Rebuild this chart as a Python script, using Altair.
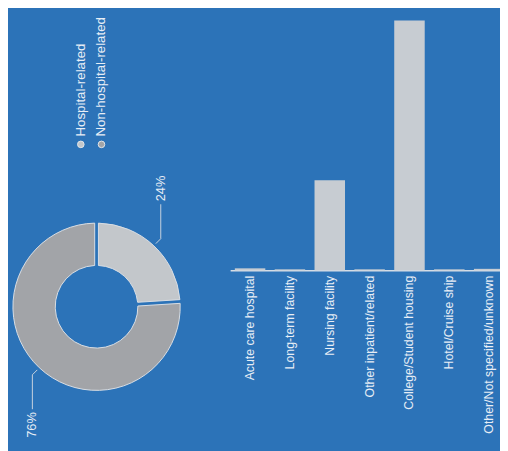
import math
import altair as alt
import pandas as pd

# ---- data ----
categories = [
    "Acute care hospital",
    "Long-term facility",
    "Nursing facility",
    "Other inpatient/related",
    "College/Student housing",
    "Hotel/Cruise ship",
    "Other/Not specified/unknown",
]
bar_values = [0.8, 0.4, 36, 0.4, 100, 0.4, 0.6]

slice_labels = ["Hospital-related", "Non-hospital-related"]
slice_pct = [24, 76]
slice_colors = ["#c3c7cb", "#a2a4a8"]

BG = "#2c73b8"
TXT = "#e8eef6"

# ---- layout (chart pixel space) ----
W, H_PLOT, BOTTOM_PAD = 500, 263, 180
CX, CY, R_OUT, R_IN = 90, 300, 85, 42

bar_df = pd.DataFrame({"category": categories, "value": bar_values})
pie_df = pd.DataFrame({"label": slice_labels, "pct": slice_pct, "idx": range(len(slice_pct))})

# leader lines and percent labels derived from slice data
total = sum(slice_pct)
lead_rows, txt_rows = [], []
cum = 0
for lab, p in zip(slice_labels, slice_pct):
    mid = (cum + p / 2) / total * 2 * math.pi
    cum += p
    s, c = math.sin(mid), math.cos(mid)
    x0, y0 = CX + (R_OUT + 3) * s, CY - (R_OUT + 3) * c
    sx = 1 if s >= 0 else -1
    sy = -1 if c >= 0 else 1
    x1, y1 = x0 + 5 * sx, y0 + 5 * sy
    x2, y2 = x1, y1 + 35 * sy
    for k, (xx, yy) in enumerate([(x0, y0), (x1, y1), (x2, y2)]):
        lead_rows.append({"label": lab, "step": k, "lx": xx, "ly": yy})
    txt_rows.append({"label": lab, "tx": x2, "ty": y2 + 3 * sy,
                     "txt": f"{p}%", "up": sy < 0})
lead_df = pd.DataFrame(lead_rows)
txt_df = pd.DataFrame(txt_rows)

leg_df = pd.DataFrame({"label": slice_labels,
                       "lx": [74, 95], "ly": [135, 135], "ty": [127, 127]})

FONT = "Liberation Sans"

pie = alt.Chart(pie_df).mark_arc(
    innerRadius=R_IN, outerRadius=R_OUT, padAngle=0.04,
    stroke="#d9dee4", strokeWidth=1
).encode(
    theta=alt.Theta("pct:Q", stack=True),
    order=alt.Order("idx:Q"),
    color=alt.Color("label:N", scale=alt.Scale(domain=slice_labels, range=slice_colors), legend=None),
    x=alt.value(CX), y=alt.value(CY),
)

bars = alt.Chart(bar_df).mark_bar(color="#c7ccd2").encode(
    x=alt.X("category:N", sort=categories, title=None,
            scale=alt.Scale(range=[225.75, 509.25], paddingInner=0.235, paddingOuter=0.1175),
            axis=alt.Axis(labelAngle=270, ticks=False, domainColor="#d5dde6", domainWidth=1.5,
                          labelColor=TXT, labelFontSize=12.5, labelPadding=5, labelLimit=300,
                          labelFont=FONT)),
    y=alt.Y("value:Q", scale=alt.Scale(domain=[0, 100], range=[H_PLOT, 9]), axis=None),
)

leader = alt.Chart(lead_df).mark_line(color="#c9d3de", strokeWidth=1).encode(
    x=alt.X("lx:Q", scale=None, axis=None),
    y=alt.Y("ly:Q", scale=None, axis=None),
    detail="label:N",
    order="step:Q",
)

pct_up = alt.Chart(txt_df[txt_df["up"]]).mark_text(
    angle=270, align="left", baseline="middle", color=TXT, fontSize=13, font=FONT
).encode(
    x=alt.X("tx:Q", scale=None, axis=None), y=alt.Y("ty:Q", scale=None, axis=None), text="txt:N"
)
pct_down = alt.Chart(txt_df[~txt_df["up"]]).mark_text(
    angle=270, align="right", baseline="middle", color=TXT, fontSize=13, font=FONT
).encode(
    x=alt.X("tx:Q", scale=None, axis=None), y=alt.Y("ty:Q", scale=None, axis=None), text="txt:N"
)

leg_pts = alt.Chart(leg_df).mark_point(filled=True, size=45, shape="circle", opacity=1,
                                       stroke="#e0e5ea", strokeWidth=1).encode(
    x=alt.X("lx:Q", scale=None, axis=None),
    y=alt.Y("ly:Q", scale=None, axis=None),
    color=alt.Color("label:N", scale=alt.Scale(domain=slice_labels, range=slice_colors), legend=None),
)
leg_txt = alt.Chart(leg_df).mark_text(
    angle=270, align="left", baseline="middle", color=TXT, fontSize=13.5, font=FONT
).encode(
    x=alt.X("lx:Q", scale=None, axis=None),
    y=alt.Y("ty:Q", scale=None, axis=None),
    text="label:N",
)

chart = alt.layer(pie, bars, leader, pct_up, pct_down, leg_pts, leg_txt).resolve_scale(
    x="independent", y="independent", color="independent"
).properties(
    width=W, height=H_PLOT,
    padding={"left": 0, "top": 0, "right": 0, "bottom": BOTTOM_PAD},
    autosize=alt.AutoSizeParams(type="none"),
    background=BG,
).configure_view(strokeWidth=0)

chart.save("out.html", embed_options={"renderer": "svg", "actions": False})
